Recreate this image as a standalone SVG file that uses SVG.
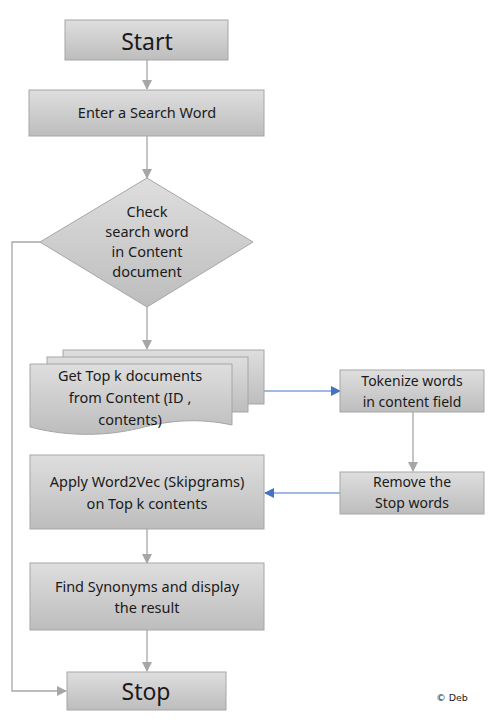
<svg xmlns="http://www.w3.org/2000/svg" width="492" height="719" viewBox="0 0 492 719">
<defs>
<linearGradient id="g" x1="0" y1="0" x2="0" y2="1">
<stop offset="0" stop-color="#dedede"/>
<stop offset="1" stop-color="#bdbdbd"/>
</linearGradient>
<marker id="ag" markerWidth="10" markerHeight="10" refX="9" refY="5" orient="auto" markerUnits="userSpaceOnUse">
<path d="M0,0 L10,5 L0,10 Z" fill="#a6a6a6"/>
</marker>
<marker id="ab" markerWidth="10" markerHeight="10" refX="9" refY="5" orient="auto" markerUnits="userSpaceOnUse">
<path d="M0,0 L10,5 L0,10 Z" fill="#4472c4"/>
</marker>
<style>
.n{fill:url(#g);stroke:#a6a6a6;stroke-width:1}
.t{font-family:"Noto Sans","Open Sans",sans-serif;font-size:14.5px;fill:#1a1a1a;text-anchor:middle}
.s{font-size:14px}
.big{font-size:23px}
.c{fill:none;stroke:#a6a6a6;stroke-width:1.3}
.b{fill:none;stroke:#4472c4;stroke-width:1.2}
</style>
</defs>
<rect width="492" height="719" fill="#ffffff"/>
<g id="connectors">
<path class="c" d="M147,60 V89" marker-end="url(#ag)"/>
<path class="c" d="M147,136 V178" marker-end="url(#ag)"/>
<path class="c" d="M147,307 V349" marker-end="url(#ag)"/>
<path class="b" d="M264,391 H340" marker-end="url(#ab)"/>
<path class="c" d="M413,412 V471" marker-end="url(#ag)"/>
<path class="b" d="M340,493 H265" marker-end="url(#ab)"/>
<path class="c" d="M147,529 V563" marker-end="url(#ag)"/>
<path class="c" d="M147,630 V671" marker-end="url(#ag)"/>
<path class="c" d="M40,242 H12 V691 H66" marker-end="url(#ag)"/>
</g>
<g id="start">
<rect class="n" x="65" y="20" width="163" height="40"/>
<text class="t big" x="147" y="50">Start</text>
</g>
<g id="enter">
<rect class="n" x="29" y="90" width="235" height="46"/>
<text class="t" x="147" y="118">Enter a Search Word</text>
</g>
<g id="check">
<polygon class="n" points="147,178 253,242 147,307 40,242"/>
<text class="t" x="147" y="217">Check</text>
<text class="t" x="147" y="237">search word</text>
<text class="t" x="147" y="257">in Content</text>
<text class="t" x="147" y="277">document</text>
</g>
<g id="topk">
<rect class="n" x="63" y="350" width="201" height="54"/>
<rect class="n" x="47" y="357" width="201" height="55"/>
<path class="n" d="M30,364 H232 V425 C200,418 170,420 140,428 C100,438 60,435 30,427 Z"/>
<text class="t" x="130" y="381">Get Top k documents</text>
<text class="t" x="130" y="403">from Content  (ID ,</text>
<text class="t" x="130" y="425">contents)</text>
</g>
<g id="tokenize">
<rect class="n" x="340" y="370" width="144" height="42"/>
<text class="t s" x="412" y="386">Tokenize words</text>
<text class="t s" x="412" y="407">in content field</text>
</g>
<g id="remove">
<rect class="n" x="340" y="472" width="144" height="42"/>
<text class="t s" x="412" y="487">Remove the</text>
<text class="t s" x="412" y="508">Stop words</text>
</g>
<g id="apply">
<rect class="n" x="30" y="455" width="234" height="74"/>
<text class="t" x="147" y="487">Apply  Word2Vec (Skipgrams)</text>
<text class="t" x="147" y="509">on Top k contents</text>
</g>
<g id="find">
<rect class="n" x="30" y="563" width="234" height="67"/>
<text class="t" x="147" y="592">Find Synonyms and display</text>
<text class="t" x="147" y="613">the result</text>
</g>
<g id="stop">
<rect class="n" x="67" y="672" width="159" height="38"/>
<text class="t big" x="146" y="700">Stop</text>
</g>
<text x="452" y="701" style="font-family:'DejaVu Sans',sans-serif;font-size:9.5px;fill:#1a1a1a;text-anchor:middle">© Deb</text>
</svg>
